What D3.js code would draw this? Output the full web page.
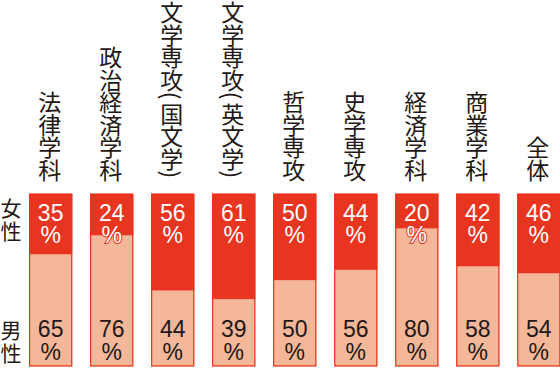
<!DOCTYPE html>
<html>
<head>
<meta charset="utf-8">
<script src="https://cdn.jsdelivr.net/npm/d3@7/dist/d3.min.js"></script>
<style>
  html, body { margin: 0; padding: 0; background: #fff; }
  svg { display: block; }
</style>
</head>
<body>
<div class="chart"></div>
<script>
(function() {
    'use strict';

    // data
    var categories = ['法律学科', '政治経済学科', '文学専攻(国文学)', '文学専攻(英文学)',
        '哲学専攻', '史学専攻', '経済学科', '商業学科', '全体'];
    var female = [35, 24, 56, 61, 50, 44, 20, 42, 46];
    var male = [65, 76, 44, 39, 50, 56, 80, 58, 54];
    var sideLabels = ['女性', '男性'];

    var width = 560, height = 368;
    var red = '#e8351f', pink = '#f4b799', ink = '#231815';
    var jp = '"Noto Sans CJK JP", sans-serif';
    var num = '"Liberation Sans", Arial, sans-serif';

    var rows = categories.map(function(c, i) {
        return { name: c, f: female[i], m: male[i] };
    });

    var svg = d3.select('.chart')
        .append('svg')
        .attr('width', width)
        .attr('height', height);

    var x = d3.scaleBand()
        .domain(categories)
        .range([29, 560.5])
        .paddingInner(0.29)
        .paddingOuter(0);

    var y = d3.scaleLinear()
        .domain([0, 100])
        .range([194, 366.5]);

    var bar = svg.selectAll('g.bar').data(rows)
        .enter()
        .append('g')
        .attr('class', 'bar')
        .attr('transform', function(d) { return 'translate(' + x(d.name) + ',0)'; });

    // male part (bottom, pink)
    bar.append('rect')
        .attr('x', 0)
        .attr('y', function(d) { return y(d.f); })
        .attr('width', x.bandwidth())
        .attr('height', function(d) { return y(100) - y(d.f); })
        .attr('fill', pink);

    // female part (top, red)
    bar.append('rect')
        .attr('x', 0)
        .attr('y', y(0))
        .attr('width', x.bandwidth())
        .attr('height', function(d) { return y(d.f) - y(0); })
        .attr('fill', red);

    // outline
    bar.append('rect')
        .attr('x', 0.6)
        .attr('y', y(0))
        .attr('width', x.bandwidth() - 1.2)
        .attr('height', y(100) - y(0) - 0.6)
        .attr('fill', 'none')
        .attr('stroke', red)
        .attr('stroke-width', 1.2);

    var cx = x.bandwidth() / 2;

    // female percentages, white with red edge so they read over pink too
    [[function(d) { return d.f; }, y(0) + 27], [function() { return '%'; }, y(0) + 49]]
        .forEach(function(p) {
            bar.append('text')
                .attr('x', cx)
                .attr('y', p[1])
                .attr('text-anchor', 'middle')
                .attr('font-family', num)
                .attr('font-size', '23px')
                .attr('fill', '#fff')
                .attr('stroke', red)
                .attr('stroke-width', 2)
                .attr('paint-order', 'stroke')
                .text(p[0]);
        });

    [[function(d) { return d.m; }, y(100) - 30], [function() { return '%'; }, y(100) - 7]]
        .forEach(function(p) {
            bar.append('text')
                .attr('x', cx)
                .attr('y', p[1])
                .attr('text-anchor', 'middle')
                .attr('font-family', num)
                .attr('font-size', '23px')
                .attr('fill', ink)
                .text(p[0]);
        });

    // vertical category labels, stacked upward from a common bottom line
    var labelBottom = 180, step = 22.5;
    bar.each(function(d) {
        var g = d3.select(this);
        var chars = d.name.split('');
        var adv = chars.map(function(c) { return (c === '(' || c === ')') ? step / 2 : step; });
        var pos = labelBottom;
        var centers = [];
        for (var i = chars.length - 1; i >= 0; i--) {
            centers[i] = pos - adv[i] / 2;
            pos -= adv[i];
        }
        chars.forEach(function(c, i) {
            var t = g.append('text')
                .attr('x', cx - 1)
                .attr('y', centers[i])
                .attr('text-anchor', 'middle')
                .attr('dominant-baseline', 'central')
                .attr('font-family', jp)
                .attr('font-size', '23px')
                .attr('fill', ink)
                .text(c);
            if (c === '(' || c === ')') {
                t.attr('transform', 'rotate(90,' + (cx - 1) + ',' + centers[i] + ')');
            }
        });
    });

    // side labels
    var sideY = [[207, 230], [329, 352]];
    sideLabels.forEach(function(s, k) {
        s.split('').forEach(function(c, i) {
            svg.append('text')
                .attr('x', 11)
                .attr('y', sideY[k][i])
                .attr('text-anchor', 'middle')
                .attr('dominant-baseline', 'central')
                .attr('font-family', jp)
                .attr('font-size', '21px')
                .attr('fill', ink)
                .text(c);
        });
    });
})();
</script>
</body>
</html>
